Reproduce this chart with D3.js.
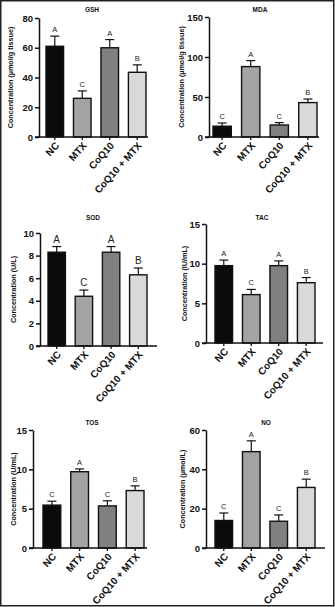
<!DOCTYPE html>
<html>
<head>
<meta charset="utf-8">
<script src="https://cdn.jsdelivr.net/npm/d3@7"></script>
<style>
  html, body { margin: 0; padding: 0; background: #fff; }
  svg { display: block; }
  text { font-family: "Liberation Sans", Arial, sans-serif; }
</style>
</head>
<body>
<svg id="chart" width="335" height="607"></svg>
<script>
// ---------------- DATA ----------------
const categories = ["NC", "MTX", "CoQ10", "CoQ10 + MTX"];
const barColors = ["#0b0b0b", "#a3a3a3", "#808080", "#d9d9d9"];

const gshMean = [61, 26, 60, 43.5];
const gshErr  = [6.8, 5, 5.5, 5];
const gshLetters = ["A", "C", "A", "B"];
const gshTicks = [0, 20, 40, 60, 80];

const mdaMean = [13.5, 88, 15, 43];
const mdaErr  = [4, 7.5, 3, 4.5];
const mdaLetters = ["C", "A", "C", "B"];
const mdaTicks = [0, 50, 100, 150];

const sodMean = [8.3, 4.4, 8.3, 6.3];
const sodErr  = [0.5, 0.55, 0.5, 0.6];
const sodLetters = ["A", "C", "A", "B"];
const sodTicks = [0, 2, 4, 6, 8, 10];

const tacMean = [9.75, 6.1, 9.75, 7.6];
const tacErr  = [0.7, 0.65, 0.6, 0.65];
const tacLetters = ["A", "C", "A", "B"];
const tacTicks = [0, 5, 10, 15];

const tosMean = [5.45, 9.7, 5.35, 7.3];
const tosErr  = [0.5, 0.35, 0.65, 0.6];
const tosLetters = ["C", "A", "C", "B"];
const tosTicks = [0, 5, 10, 15];

const noMean = [14, 49, 13.6, 30.8];
const noErr  = [3.8, 5.5, 3.2, 4.2];
const noLetters = ["C", "A", "C", "B"];
const noTicks = [0, 20, 40, 60];

// ---------------- LAYOUT ----------------
const panels = [
  { title: "GSH", ylabel: "Concentration (\u00b5mol/g tissue)", mean: gshMean, err: gshErr, letters: gshLetters, ticks: gshTicks,
    ax: 39, yTop: 18, y0: 137, barL: 46, barR: 146, axEnd: 148, titleX: 92, titleY: 12, ylabX: 11, letterSize: 7.5 },
  { title: "MDA", ylabel: "Concentration (\u00b5mol/g tissue)", mean: mdaMean, err: mdaErr, letters: mdaLetters, ticks: mdaTicks,
    ax: 209, yTop: 17, y0: 137, barL: 213, barR: 317, axEnd: 319, titleX: 260, titleY: 12, ylabX: 182, letterSize: 7.5 },
  { title: "SOD", ylabel: "Concentration (U/L)", mean: sodMean, err: sodErr, letters: sodLetters, ticks: sodTicks,
    ax: 40, yTop: 233, y0: 346, barL: 48, barR: 147, axEnd: 157, titleX: 93, titleY: 220, ylabX: 14, letterSize: 10 },
  { title: "TAC", ylabel: "Concentration (IU/mL)", mean: tacMean, err: tacErr, letters: tacLetters, ticks: tacTicks,
    ax: 206, yTop: 224, y0: 343, barL: 215, barR: 315, axEnd: 323, titleX: 262, titleY: 220, ylabX: 185, letterSize: 7.5 },
  { title: "TOS", ylabel: "Concentration (U/mL)", mean: tosMean, err: tosErr, letters: tosLetters, ticks: tosTicks,
    ax: 33, yTop: 430, y0: 548, barL: 43, barR: 144, axEnd: 147, titleX: 92, titleY: 425, ylabX: 14, letterSize: 7.5 },
  { title: "NO", ylabel: "Concentration (\u00b5mol/L)", mean: noMean, err: noErr, letters: noLetters, ticks: noTicks,
    ax: 206, yTop: 430, y0: 548, barL: 215, barR: 315, axEnd: 325, titleX: 266, titleY: 425, ylabX: 183, letterSize: 7.5 }
];

const svg = d3.select("#chart");

// outer frame
svg.append("rect").attr("x", 0.75).attr("y", 0.75).attr("width", 333).attr("height", 605)
  .attr("fill", "none").attr("stroke", "#222").attr("stroke-width", 1.5);

panels.forEach(p => {
  const g = svg.append("g");
  const data = categories.map((c, i) => ({ cat: c, mean: p.mean[i], err: p.err[i], letter: p.letters[i], color: barColors[i] }));
  const y = d3.scaleLinear().domain([0, d3.max(p.ticks)]).range([p.y0, p.yTop]);
  const x = d3.scaleBand().domain(categories).range([p.barL, p.barR]).paddingInner(0.36).paddingOuter(0);
  const bw = x.bandwidth();

  // title
  g.append("text").attr("x", p.titleX).attr("y", p.titleY).attr("text-anchor", "middle")
    .attr("font-size", 6.5).attr("font-weight", "bold").attr("fill", "#111").text(p.title);

  // y label
  g.append("text").attr("transform", `translate(${p.ylabX},${(p.y0 + p.yTop) / 2}) rotate(-90)`)
    .attr("text-anchor", "middle").attr("dominant-baseline", "middle")
    .attr("font-size", 7.2).attr("font-weight", "bold").attr("fill", "#111").text(p.ylabel);

  // error bars (upper only)
  const eg = g.append("g").attr("stroke", "#111").attr("stroke-width", 1.2);
  data.forEach(d => {
    const cx = x(d.cat) + bw / 2;
    eg.append("line").attr("x1", cx).attr("x2", cx).attr("y1", y(d.mean)).attr("y2", y(d.mean + d.err));
    eg.append("line").attr("x1", cx - 4.5).attr("x2", cx + 4.5).attr("y1", y(d.mean + d.err)).attr("y2", y(d.mean + d.err));
  });

  // bars
  g.selectAll("rect.bar").data(data).enter().append("rect").attr("class", "bar")
    .attr("x", d => x(d.cat)).attr("width", bw)
    .attr("y", d => y(d.mean)).attr("height", d => p.y0 - y(d.mean))
    .attr("fill", d => d.color).attr("stroke", "#111").attr("stroke-width", 1.4);

  // letters
  g.selectAll("text.letter").data(data).enter().append("text").attr("class", "letter")
    .attr("x", d => x(d.cat) + bw / 2).attr("y", d => y(d.mean + d.err) - 4)
    .attr("text-anchor", "middle").attr("font-size", p.letterSize).attr("fill", "#222").text(d => d.letter);

  // y axis
  const yAxis = d3.axisLeft(y).tickValues(p.ticks).tickSize(4).tickSizeOuter(0).tickPadding(2);
  const ya = g.append("g").attr("transform", `translate(${p.ax},0)`).call(yAxis);
  ya.select(".domain").attr("stroke", "#111").attr("stroke-width", 1.5);
  ya.selectAll(".tick line").attr("stroke", "#111").attr("stroke-width", 1.5);
  ya.selectAll(".tick text").attr("font-size", 9.5).attr("font-weight", "bold").attr("fill", "#111")
    .attr("font-family", "Liberation Sans, Arial, sans-serif");

  // x axis
  const xAxis = d3.axisBottom(x).tickSize(3).tickSizeOuter(0);
  const xa = g.append("g").attr("transform", `translate(0,${p.y0})`).call(xAxis);
  xa.select(".domain").remove();
  xa.selectAll(".tick line").attr("stroke", "#111").attr("stroke-width", 1.3);
  xa.selectAll(".tick text").attr("font-size", 10).attr("font-weight", "bold").attr("fill", "#111")
    .attr("font-family", "Liberation Sans, Arial, sans-serif")
    .attr("text-anchor", "end").attr("dy", null).attr("y", null)
    .attr("transform", "translate(5,9) rotate(-48)");
  g.append("line").attr("x1", p.ax - 4).attr("x2", p.axEnd).attr("y1", p.y0).attr("y2", p.y0)
    .attr("stroke", "#111").attr("stroke-width", 1.5);
});
</script>
</body>
</html>
